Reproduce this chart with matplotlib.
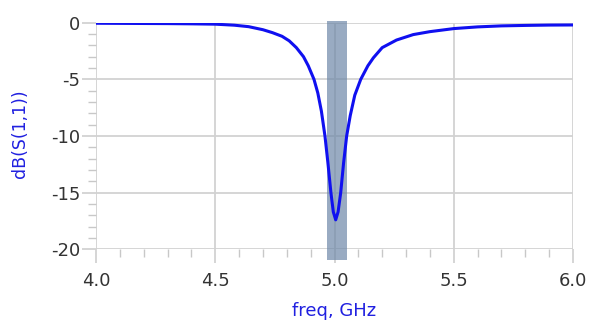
import matplotlib
matplotlib.use("Agg")
import matplotlib.pyplot as plt
from matplotlib.ticker import MultipleLocator

plt.rcParams['font.family'] = ['DejaVu Sans']

freq = [4.00, 4.10, 4.20, 4.30, 4.40, 4.50, 4.58, 4.64, 4.70, 4.74, 4.78, 4.81,
        4.84, 4.87, 4.89, 4.914, 4.93, 4.945, 4.960, 4.972, 4.985, 4.995,
        5.005, 5.015, 5.026, 5.038, 5.051, 5.066, 5.085, 5.110,
        5.14, 5.163, 5.20, 5.26, 5.33, 5.40, 5.50, 5.60, 5.70, 5.80, 5.90, 6.00]
s11_db = [-0.05, -0.06, -0.07, -0.08, -0.10, -0.13, -0.22, -0.35, -0.62, -0.88,
          -1.2, -1.6, -2.2, -3.0, -3.8, -5.0, -6.2, -7.8, -10.0, -12.3, -15.0,
          -16.7, -17.4, -16.7, -15.0, -12.4, -10.0, -8.2, -6.4, -5.0,
          -3.8, -3.1, -2.2, -1.53, -1.05, -0.79, -0.52, -0.37,
          -0.28, -0.24, -0.21, -0.20]
band = [4.967, 5.051]
xticks = [4.0, 4.5, 5.0, 5.5, 6.0]
yticks = [0, -5, -10, -15, -20]

grey = '#d2d2d2'
fig = plt.figure(figsize=(5.89, 3.2), dpi=100)
ax = fig.add_axes([96/589, 1-249.3/320, (573-96)/589, (249.3-22.7)/320])
ax.set_xlim(4.0, 6.0)
ax.set_ylim(-20, 0)
for s in ax.spines.values():
    s.set_visible(False)

ax.set_xticks(xticks)
ax.set_xticklabels([f"{v:.1f}" for v in xticks])
ax.set_yticks(yticks)
ax.set_yticklabels([str(v) for v in yticks])
ax.xaxis.set_minor_locator(MultipleLocator(0.1))
ax.yaxis.set_minor_locator(MultipleLocator(1))
ax.grid(True, which='major', color=grey, linewidth=1.3, zorder=0)
ax.set_axisbelow(True)
ax.tick_params(axis='both', which='major', length=10, width=1.3, color=grey,
               labelsize=13, labelcolor='#333333')
ax.tick_params(axis='both', which='minor', length=5.5, width=1.0, color='#c8c8c8')
ax.tick_params(axis='y', which='major', pad=1.5)
ax.tick_params(axis='x', which='major', pad=6.5)

ax.axvspan(band[0], band[1], ymin=-0.047, ymax=1.009, color='#6e88a8', alpha=0.7,
           clip_on=False, zorder=2, lw=0)
ax.plot(freq, s11_db, color='#1010f0', lw=2.2, zorder=3, solid_joinstyle='round')

ax.set_xlabel('freq, GHz', color='#2020e0', fontsize=13)
ax.set_ylabel('dB(S(1,1))', color='#2020e0', fontsize=12.5)
ax.xaxis.set_label_coords(0.5, -0.232)
ax.yaxis.set_label_coords(-0.14, 0.51)

fig.savefig('out.png', dpi=100)
